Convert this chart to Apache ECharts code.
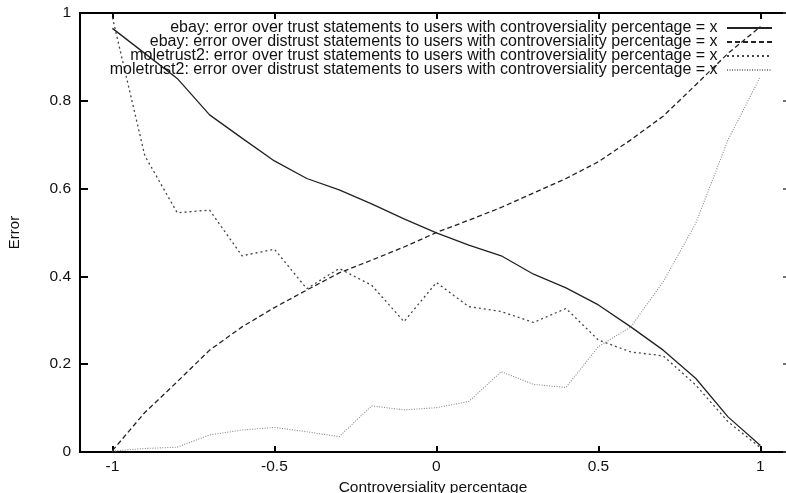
<!DOCTYPE html>
<html>
<head>
<meta charset="utf-8">
<script src="https://cdn.jsdelivr.net/npm/echarts@6/dist/echarts.min.js"></script>
<style>
    html, body { margin: 0; padding: 0; background: #fff; }
    #chart { width: 786px; height: 493px; }
</style>
</head>
<body>
<div id="chart"></div>
<script>
    /* ---------- data ---------- */
    var xs = [-1, -0.9, -0.8, -0.7, -0.6, -0.5, -0.4, -0.3, -0.2, -0.1, 0,
        0.1, 0.2, 0.3, 0.4, 0.5, 0.6, 0.7, 0.8, 0.9, 1];
    var ebayTrust = [0.965, 0.908, 0.851, 0.768, 0.715, 0.663, 0.623, 0.597, 0.565, 0.531, 0.499,
        0.471, 0.447, 0.405, 0.374, 0.335, 0.285, 0.232, 0.168, 0.080, 0.015];
    var ebayDistrust = [0.003, 0.090, 0.160, 0.232, 0.285, 0.329, 0.369, 0.408, 0.437, 0.467, 0.500,
        0.528, 0.557, 0.590, 0.623, 0.661, 0.711, 0.765, 0.836, 0.908, 0.969];
    var moleTrust = [0.990, 0.675, 0.545, 0.551, 0.447, 0.462, 0.372, 0.418, 0.380, 0.297, 0.386,
        0.331, 0.320, 0.295, 0.327, 0.255, 0.228, 0.219, 0.153, 0.069, 0.010];
    var moleDistrust = [0.002, 0.008, 0.011, 0.039, 0.050, 0.056, 0.046, 0.035, 0.105, 0.096, 0.101,
        0.115, 0.183, 0.154, 0.147, 0.240, 0.285, 0.388, 0.520, 0.711, 0.855];
    var xTicks = [-1, -0.5, 0, 0.5, 1];
    var names = [
        'ebay: error over trust statements to users with controversiality percentage = x',
        'ebay: error over distrust statements to users with controversiality percentage = x',
        'moletrust2: error over trust statements to users with controversiality percentage = x',
        'moletrust2: error over distrust statements to users with controversiality percentage = x'
    ];

    function pairs(ys) {
        return xs.map(function (x, i) { return [x, ys[i]]; });
    }

    var font = 'Liberation Sans, Arial, sans-serif';
    // plot frame runs past the right edge of the picture, so the x range is cut there
    var xMin = -1.1, xMax = 1.079;
    var frame = { color: '#000', width: 2 };
    var chart = echarts.init(document.getElementById('chart'));

    var option = {
        backgroundColor: '#fff',
        animation: false,
        textStyle: { fontFamily: font, color: '#111' },
        grid: { left: 80, top: 13, right: 0, bottom: 41, outerBoundsMode: 'none' },
        legend: {
            orient: 'vertical',
            align: 'right',
            right: 13,
            top: 20,
            padding: 0,
            itemWidth: 45,
            itemHeight: 10,
            itemGap: -2,
            itemStyle: { opacity: 0 },
            formatter: function (name) { return name + ' '; },
            textStyle: { fontFamily: font, fontSize: 16, color: '#111', lineHeight: 14 },
            data: names
        },
        xAxis: [{
            type: 'value',
            min: xMin,
            max: xMax,
            name: 'Controversiality percentage',
            nameLocation: 'middle',
            nameGap: 28,
            nameTextStyle: { fontFamily: font, fontSize: 15.5, color: '#111' },
            axisLine: { show: true, onZero: false, lineStyle: frame },
            axisTick: { inside: true, length: 6, customValues: xTicks, lineStyle: frame },
            axisLabel: { customValues: xTicks, margin: 7, fontSize: 15.5, color: '#111', fontFamily: font },
            splitLine: { show: false }
        }, {
            type: 'value',
            position: 'top',
            min: xMin,
            max: xMax,
            axisLine: { show: true, onZero: false, lineStyle: frame },
            axisTick: { inside: true, length: 6, customValues: xTicks, lineStyle: frame },
            axisLabel: { show: false },
            splitLine: { show: false }
        }],
        yAxis: [{
            type: 'value',
            min: 0,
            max: 1,
            interval: 0.2,
            name: 'Error',
            nameLocation: 'middle',
            nameGap: 58,
            nameTextStyle: { fontFamily: font, fontSize: 15, color: '#111' },
            axisLine: { show: true, onZero: false, lineStyle: frame },
            axisTick: { inside: true, length: 8, lineStyle: frame },
            axisLabel: { margin: 9, fontSize: 15.5, color: '#111', fontFamily: font },
            splitLine: { show: false }
        }, {
            type: 'value',
            position: 'right',
            min: 0,
            max: 1,
            interval: 0.2,
            axisLine: { show: false, onZero: false },
            axisTick: { show: true, inside: true, length: 3, lineStyle: { color: '#444', width: 1.5 } },
            axisLabel: { show: false },
            splitLine: { show: false }
        }],
        series: [{
            name: names[0],
            type: 'line',
            symbol: 'none',
            data: pairs(ebayTrust),
            lineStyle: { color: '#222', width: 1.3, type: 'solid' },
            itemStyle: { color: '#222' }
        }, {
            name: names[1],
            type: 'line',
            symbol: 'none',
            data: pairs(ebayDistrust),
            lineStyle: { color: '#222', width: 1.3, type: [5, 3] },
            itemStyle: { color: '#222' }
        }, {
            name: names[2],
            type: 'line',
            symbol: 'none',
            data: pairs(moleTrust),
            lineStyle: { color: '#444', width: 1.3, type: [2, 3] },
            itemStyle: { color: '#444' }
        }, {
            name: names[3],
            type: 'line',
            symbol: 'none',
            data: pairs(moleDistrust),
            lineStyle: { color: '#888', width: 1.1, type: [1, 1.5] },
            itemStyle: { color: '#888' }
        }]
    };
    chart.setOption(option);
</script>
</body>
</html>
